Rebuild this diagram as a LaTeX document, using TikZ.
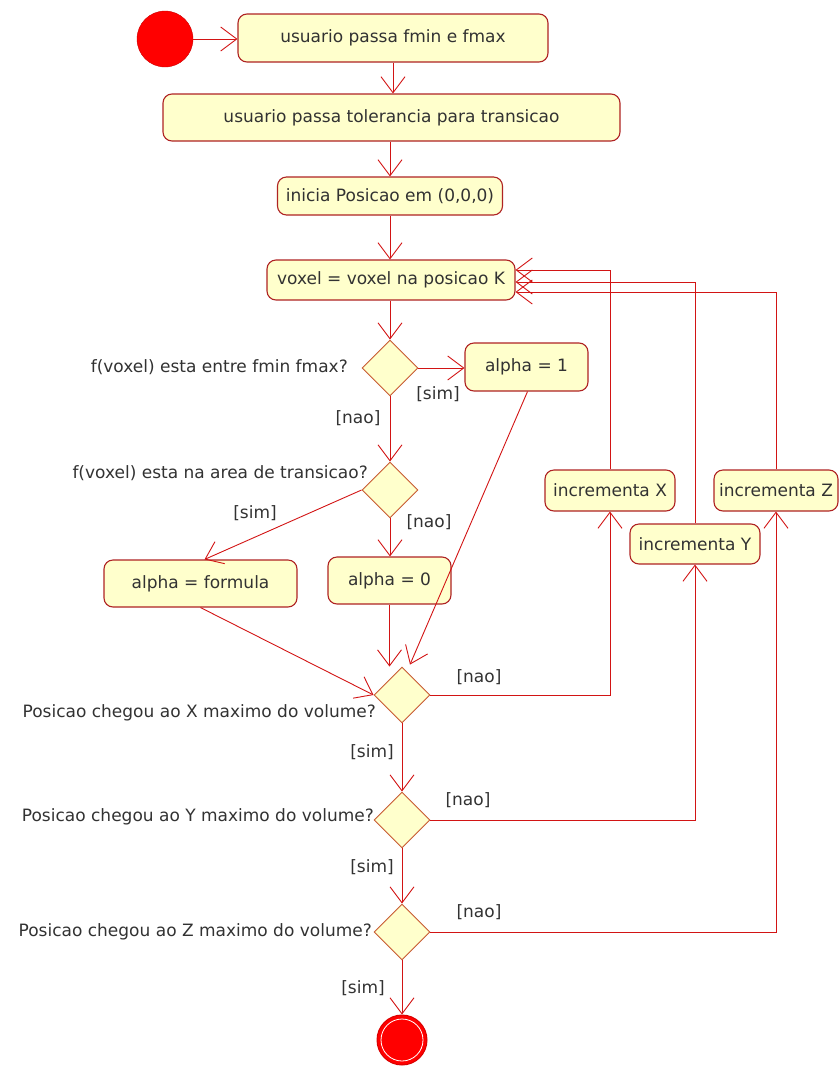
\documentclass[tikz,border=0pt]{standalone}
\usepackage{fontspec}
\setmainfont{DejaVu Sans}
\usetikzlibrary{shapes.geometric,arrows.meta,calc}
\definecolor{boxfill}{RGB}{255,255,204}
\definecolor{boxborder}{RGB}{175,35,35}
\definecolor{decborder}{RGB}{200,90,50}
\definecolor{linered}{RGB}{210,20,20}
\definecolor{txt}{RGB}{50,50,50}
\tikzset{
  act/.style={draw=boxborder, fill=boxfill, rounded corners=9pt, line width=1.1pt, inner sep=0pt, text=txt, font=\fontsize{17}{19}\selectfont},
  dec/.style={draw=decborder, fill=boxfill, diamond, line width=0.9pt, minimum width=56pt, minimum height=56pt, inner sep=0pt},
  arr/.style={draw=linered, line width=0.9pt, -{Straight Barb[length=16pt,width=24pt,line width=0.9pt]}},
  lab/.style={text=txt, font=\fontsize{17}{19}\selectfont, inner sep=0pt},
}
\begin{document}
\begin{tikzpicture}[x=1pt,y=-1pt]
\useasboundingbox (0,0) rectangle (840,1066);
% activity nodes
\node[circle, fill=red, draw=red!80!black, minimum size=56pt, inner sep=0pt] (start) at (165,39) {};
\node[act, minimum width=310pt, minimum height=48pt] (box1) at (393,38) {usuario passa fmin e fmax};
\node[act, minimum width=457pt, minimum height=47pt] (box2) at (391.5,117.5) {usuario passa tolerancia para transicao};
\node[act, minimum width=225pt, minimum height=38pt] (box3) at (390,196) {inicia Posicao em (0,0,0)};
\node[act, minimum width=248pt, minimum height=40pt] (box4) at (391,280) {voxel = voxel na posicao K};
\node[dec] (d1) at (390,368) {};
\node[act, minimum width=123pt, minimum height=48pt] (a1) at (526.5,367) {alpha = 1};
\node[dec] (d2) at (390,490) {};
\node[act, minimum width=193pt, minimum height=47pt] (aF) at (200.5,583.5) {alpha = formula};
\node[act, minimum width=123pt, minimum height=47pt] (a0) at (389.5,580.5) {alpha = 0};
\node[act, minimum width=130pt, minimum height=41pt] (incX) at (610,490.5) {incrementa X};
\node[act, minimum width=124pt, minimum height=41pt] (incZ) at (776,490.5) {incrementa Z};
\node[act, minimum width=130pt, minimum height=40pt] (incY) at (695,544) {incrementa Y};
\node[dec] (dX) at (402,695) {};
\node[dec] (dY) at (402,820) {};
\node[dec] (dZ) at (402,932) {};
\node[circle, fill=red, draw=red!85!black, line width=1pt, minimum size=50pt, inner sep=0pt] (end) at (402,1040) {};
\draw[white, line width=0.8pt] (end.center) circle (21pt);
% labels
\node[lab, anchor=east] (q1) at (348,367) {f(voxel) esta entre fmin fmax?};
\node[lab, anchor=east] (q2) at (368,473) {f(voxel) esta na area de transicao?};
\node[lab, anchor=east] (qX) at (376,713) {Posicao chegou ao X maximo do volume?};
\node[lab, anchor=east] (qY) at (374,817) {Posicao chegou ao Y maximo do volume?};
\node[lab, anchor=east] (qZ) at (372,932) {Posicao chegou ao Z maximo do volume?};
\node[lab] (s1) at (438,394) {[sim]};
\node[lab] (n1) at (358,418) {[nao]};
\node[lab] (s2) at (255,513) {[sim]};
\node[lab] (n2) at (429,522) {[nao]};
\node[lab] (nX) at (479,677) {[nao]};
\node[lab] (sX) at (372,752) {[sim]};
\node[lab] (nY) at (468,800) {[nao]};
\node[lab] (sY) at (372,867) {[sim]};
\node[lab] (nZ) at (479,912) {[nao]};
\node[lab] (sZ) at (363,988) {[sim]};
% connectors
\draw[arr] (start) -- (box1.west |- start);
\draw[arr] (box1.south) -- (box1.south |- box2.north);
\draw[arr] (box3.north |- box2.south) -- (box3.north);
\draw[arr] (box3.south) -- (box3.south |- box4.north);
\draw[arr] (box4.south -| d1) -- (d1.north);
\draw[arr] (d1.east) -- (a1.west |- d1.east);
\draw[arr] (d1.south) -- (d2.north);
\draw[arr] (d2.west) -- ($(aF.north)+(4,0)$);
\draw[arr] (d2.south) -- (a0.north -| d2);
\draw[arr] (a0.south) -- (a0.south |- dX.north);
\draw[arr] ($(a1.south)+(1,0)$) -- ($(dX.north)+(8,-2)$);
\draw[arr] (aF.south) -- (dX.west);
\draw[arr] (dX.east) -| (incX.south);
\draw[arr] (dY.east) -| (incY.south);
\draw[arr] (dZ.east) -| (incZ.south);
\draw[arr] (incX.north) |- ($(box4.east)+(0,-10)$);
\draw[arr] (incY.north) |- ($(box4.east)+(0,2)$);
\draw[arr] (incZ.north) |- ($(box4.east)+(0,12)$);
\draw[arr] (dX.south) -- (dY.north);
\draw[arr] (dY.south) -- (dZ.north);
\draw[arr] (dZ.south) -- (end.north);
\end{tikzpicture}
\end{document}
